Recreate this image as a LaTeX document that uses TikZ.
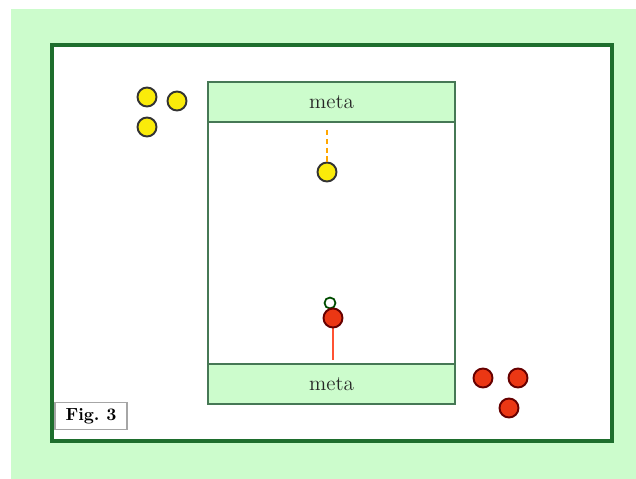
\documentclass[tikz,border=0pt]{standalone}
\usepackage{tikz}

\definecolor{pitchgreen}{RGB}{204,252,204}
\definecolor{linegreen}{RGB}{30,110,45}
\definecolor{goalline}{RGB}{70,120,85}
\definecolor{ballred}{RGB}{235,55,20}
\definecolor{ballyellow}{RGB}{250,235,10}

\tikzset{
  ball/.style={circle,draw=black!80,line width=1.1pt,minimum size=0.38cm,inner sep=0pt},
  goal/.style={fill=pitchgreen,draw=goalline,line width=0.9pt},
}

\begin{document}
\begin{tikzpicture}[x=0.02cm,y=-0.02cm]
	   \useasboundingbox (0,0) rectangle (636,479);
	   \fill [fill=pitchgreen] (11,9) rectangle (636,479);
	   \draw [fill=white,draw=linegreen,line width=1.8pt] (52,45) rectangle (612,441);
	   % field with the two goal areas
	   \draw [goalline,line width=0.9pt,fill=white] (208,82) rectangle (455,404);
	   \draw [goal] (208,82) rectangle (455,122);
	   \draw [goal] (208,364) rectangle (455,404);
	   \node [text=black!85] (metatop) at (331.5,102) {\fontsize{12}{14}\selectfont meta};
	   \node [text=black!85] (metabot) at (331.5,384) {\fontsize{12}{14}\selectfont meta};
	   % yellow team
	   \node [ball,fill=ballyellow] (y1) at (147,97) {};
	   \node [ball,fill=ballyellow] (y2) at (177,101) {};
	   \node [ball,fill=ballyellow] (y3) at (147,127) {};
	   \coordinate (yfrom) at (327,130);
	   \node [ball,fill=ballyellow] (ymove) at (327,172) {};
	   \draw [orange!70!yellow,line width=1pt,dash pattern=on 3pt off 2pt] (yfrom) -- (ymove);
	   % red team
	   \node [ball,fill=ballred,draw=red!40!black] (r1) at (483,378) {};
	   \node [ball,fill=ballred,draw=red!40!black] (r2) at (518,378) {};
	   \node [ball,fill=ballred,draw=red!40!black] (r3) at (509,408) {};
	   \coordinate (rfrom) at (333,360);
	   \node [circle,draw=black!70!green,fill=white,line width=1pt,minimum size=0.22cm,inner sep=0pt] (puck) at (330,303) {};
	   \draw [red!70!orange!80!white,line width=1pt] (rfrom) -- (333,318);
	   \node [ball,fill=ballred,draw=red!40!black] (rmove) at (333,318) {};
	   % label
	   \node [draw=black!35,fill=white,line width=0.8pt,minimum width=1.44cm,minimum height=0.5cm,font=\bfseries] (fig) at (91,416) {Fig.\ 3};
	\end{tikzpicture}
\end{document}
